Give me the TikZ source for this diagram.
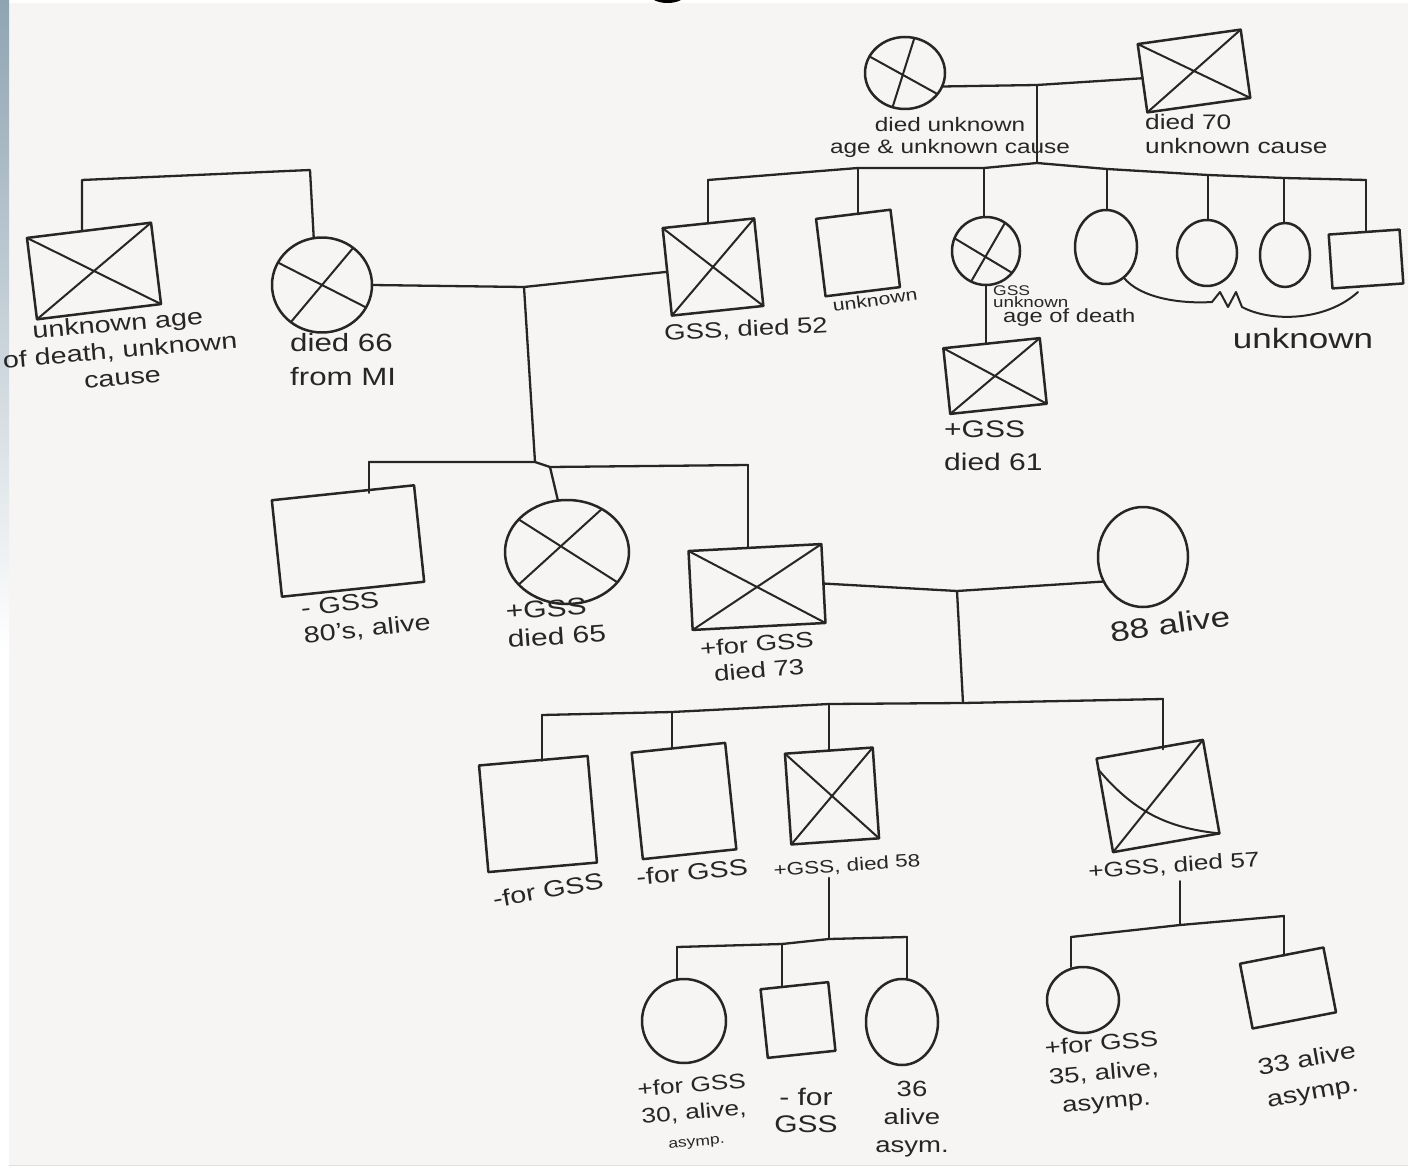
\documentclass[tikz,border=0pt]{standalone}
\usepackage{fontspec}
\setmainfont{Liberation Sans}[FakeStretch=1.25]
\usetikzlibrary{shapes.geometric,calc}
\definecolor{ink}{HTML}{262626}
\definecolor{paper}{HTML}{F7F5F3}
\definecolor{rim}{HTML}{8FA4B2}
\newcommand\hwfont[2]{\fontsize{#1}{#2}\selectfont}
\begin{document}
\begin{tikzpicture}[x=1pt,y=-1pt,
  line join=round, line cap=round,
  male/.style={draw=ink, line width=2.5pt, rectangle, inner sep=0pt, outer sep=0pt},
  female/.style={draw=ink, line width=2.5pt, ellipse, inner sep=0pt, outer sep=0pt},
  link/.style={draw=ink, line width=2.3pt},
  cross/.style={draw=ink, line width=2pt},
  lbl/.style={text=ink, inner sep=0pt, align=center},
  lbll/.style={text=ink, inner sep=0pt, align=left}]
% ---------- background ----------
\useasboundingbox (0,0) rectangle (1408,1174);
\fill[white] (0,0) rectangle (1408,1174);
\fill[paper] (9,3) rectangle (1408,1165);
\shade[top color=rim, bottom color=white] (0,0) rectangle (9,650);
\draw[line width=1pt, black!12] (9,1165) -- (1408,1165);
\fill[black] (654,0) .. controls (661,4) and (674,4) .. (681,0) -- cycle;

% ---------- generation I ----------
\node[female, minimum width=80, minimum height=72] (TC) at (905,73) {};
\node[male, minimum width=104, minimum height=69, rotate=8] (TS) at (1194,71) {};
\node[male, minimum width=125, minimum height=82, rotate=7] (LS) at (94,271) {};
\node[female, minimum width=100, minimum height=95] (LC) at (322,285) {};

% ---------- children of the top couple ----------
\node[male, minimum width=92, minimum height=88, rotate=6] (S52) at (713,267) {};
\node[male, minimum width=75, minimum height=78, rotate=7] (SU) at (858,253) {};
\node[female, minimum width=68, minimum height=68] (C3) at (986,251) {};
\node[female, minimum width=62, minimum height=74] (C4) at (1106,247) {};
\node[female, minimum width=60, minimum height=66] (C5) at (1207,253) {};
\node[female, minimum width=50, minimum height=64] (C6) at (1285,255) {};
\node[male, minimum width=71, minimum height=54, rotate=4] (S7) at (1366,259) {};
\node[male, minimum width=97, minimum height=66, rotate=6] (S61) at (995,376) {};

% ---------- generation III ----------
\node[male, minimum width=143, minimum height=97, rotate=6] (M1) at (348,541) {};
\node[female, minimum width=124, minimum height=104] (M2) at (567,552) {};
\node[male, minimum width=133, minimum height=79, rotate=3] (M3) at (757,587) {};
\node[female, minimum width=90, minimum height=100] (W) at (1143,557) {};

% ---------- generation IV ----------
\node[male, minimum width=109, minimum height=107, rotate=5] (G1) at (538,814) {};
\node[male, minimum width=94, minimum height=107, rotate=6] (G2) at (684,801) {};
\node[male, minimum width=88, minimum height=91, rotate=4] (G3) at (832,796) {};
\node[male, minimum width=108, minimum height=95, rotate=10] (G4) at (1158,796) {};

% ---------- generation V ----------
\node[female, minimum width=84, minimum height=84] (D1) at (684,1021) {};
\node[male, minimum width=68, minimum height=69, rotate=6] (D2) at (798,1020) {};
\node[female, minimum width=72, minimum height=86] (D3) at (902,1022) {};
\node[female, minimum width=72, minimum height=66] (D4) at (1083,1000) {};
\node[male, minimum width=85, minimum height=66, rotate=11] (D5) at (1288,988) {};

% ---------- crosses (deceased) ----------
\draw[cross] (TC.155) -- (TC.-33) (TC.-110) -- (TC.75);
\draw[cross] (TS.north west) -- (TS.south east) (TS.south west) -- (TS.north east);
\draw[cross] (LS.north west) -- (LS.south east) (LS.south west) -- (LS.north east);
\draw[cross] (LC.153) -- (LC.-27) (LC.-130) -- (LC.50);
\draw[cross] (S52.north west) -- (S52.south east) (S52.south west) -- (S52.north east);
\draw[cross] (C3.158) -- (C3.-40) (C3.-116) -- (C3.56);
\draw[cross] (S61.north west) -- (S61.south east) (S61.south west) -- (S61.north east);
\draw[cross] (M2.146) -- (M2.-31) (M2.-146) -- (M2.51);
\draw[cross] (M3.north west) -- (M3.south east) (M3.south west) -- (M3.north east);
\draw[cross] (G3.north west) -- (G3.south east) (G3.south west) -- (G3.north east);
\draw[cross] ($(G4.north west)!0.12!(G4.south west)$) to[bend right=22] (G4.south east) (G4.south west) -- (G4.north east);

% ---------- labels ----------
\node[lbl, font=\hwfont{19.5}{22}] (TCt) at (950,137) {died unknown\\age \& unknown cause};
\node[lbll, font=\hwfont{21}{24}, anchor=north west] (TSt) at (1145,114) {died 70\\unknown cause};
\node[lbl, font=\hwfont{23}{27}, rotate=5] (LSt) at (120,350) {unknown age\\of death, unknown\\cause};
\node[lbll, font=\hwfont{25}{34}, anchor=north west] (LCt) at (290,333) {died 66\\from MI};
\node[lbl, font=\hwfont{22}{22}, rotate=3] (S52t) at (746,330) {GSS, died 52};
\node[lbl, font=\hwfont{17}{17}, rotate=8] (SUt) at (875,300) {unknown};
\node[lbll, anchor=north west] (C3t) at (993,286) {\hwfont{14}{16}GSS\\\hwfont{15}{16}unknown\\\hwfont{19}{18}\hspace*{10pt}age of death};
\node[lbl, font=\hwfont{28}{28}] (BRt) at (1303,338) {unknown};
\node[lbll, font=\hwfont{24}{33}, anchor=north west] (S61t) at (944,421) {+GSS\\died 61};

\node[lbll, font=\hwfont{23}{27}, rotate=6, anchor=north west] (M1t) at (300,600) {- GSS\\80's, alive};
\node[lbll, font=\hwfont{24}{28}, rotate=4, anchor=north west] (M2t) at (505,603) {+GSS\\died 65};
\node[lbl, font=\hwfont{22}{26}, rotate=5] (M3t) at (758,657) {+for GSS\\died 73};
\node[lbl, font=\hwfont{28}{28}, rotate=8] (Wt) at (1170,624) {88 alive};

\node[lbl, font=\hwfont{23}{23}, rotate=10] (G1t) at (548,890) {-for GSS};
\node[lbl, font=\hwfont{23}{23}, rotate=5] (G2t) at (692,872) {-for GSS};
\node[lbl, font=\hwfont{18}{18}, rotate=4] (G3t) at (847,866) {+GSS, died 58};
\node[lbl, font=\hwfont{21}{21}, rotate=4] (G4t) at (1174,866) {+GSS, died 57};

\node[lbl, font=\hwfont{21}{27}, rotate=5] (D1t) at (694,1113) {+for GSS\\30, alive,\\\hwfont{14}{17}asymp.};
\node[lbl, font=\hwfont{24}{27}] (D2t) at (806,1110) {- for\\GSS};
\node[lbl, font=\hwfont{22}{28}] (D3t) at (912,1119) {36\\alive\\asym.};
\node[lbl, font=\hwfont{22}{29}, rotate=5] (D4t) at (1104,1074) {+for GSS\\35, alive,\\asymp.};
\node[lbl, font=\hwfont{23}{33}, rotate=10] (D5t) at (1310,1077) {33 alive\\asymp.};

% ---------- top couple and their children ----------
\coordinate (t1) at (1037,85);
\coordinate (t2) at (1037,163);
\draw[link] (TC.-20) -- (t1) -- (TS.west);
\draw[link] (t1) -- (t2);
\coordinate (u1) at (708,180);
\coordinate (u2) at (858,168);
\coordinate (u3) at (984,168);
\coordinate (u4) at (1107,169);
\coordinate (u5) at (1208,175);
\coordinate (u6) at (1284,178);
\coordinate (u7) at (1366,180);
\draw[link] (u1) -- (u2) -- (u3) -- (t2) -- (u4) -- (u5) -- (u6) -- (u7);
\draw[link] (u1) -- (u1 |- S52.north);
\draw[link] (u2) -- (u2 |- SU.north);
\draw[link] (u3) -- (u3 |- C3.north);
\draw[link] (u4) -- (u4 |- C4.north);
\draw[link] (u5) -- (u5 |- C5.north);
\draw[link] (u6) -- (u6 |- C6.north);
\draw[link] (u7) -- (u7 |- S7.north);
\draw[link] (C3.south) -- (C3.south |- S61.north);
% bracket "unknown"
\draw[cross] (C4.-60) .. controls (1140,298) and (1180,304) .. (1212,302)
  -- (1220,292) -- (1228,307) -- (1236,292) -- (1242,307)
  .. controls (1270,322) and (1325,322) .. (1358,292);

% ---------- left couple ----------
\coordinate (l1) at (82,180);
\coordinate (l2) at (310,170);
\draw[link] (l1 |- LS.north) -- (l1) -- (l2) -- (LC.100);

% ---------- marriage LC - S52 ----------
\coordinate (m1) at (524,287);
\coordinate (m2) at (535,462);
\draw[link] (LC.east) -- (m1) -- (S52.west);
\draw[link] (m1) -- (m2);
\coordinate (s2a) at (369,462);
\coordinate (s2b) at (550,467);
\coordinate (s2c) at (748,465);
\draw[link] (s2a) -- (m2) -- (s2b) -- (s2c);
\draw[link] (s2a) -- (s2a |- M1.north);
\draw[link] (s2b) -- (M2.100);
\draw[link] (s2c) -- (s2c |- M3.north);

% ---------- marriage M3 - W ----------
\coordinate (m3) at (957,591);
\coordinate (m4) at (963,703);
\draw[link] (M3.east) -- (m3) -- (W.212);
\draw[link] (m3) -- (m4);
\coordinate (s3a) at (542,715);
\coordinate (s3b) at (672,712);
\coordinate (s3c) at (829,704);
\coordinate (s3d) at (1163,699);
\draw[link] (s3a) -- (s3b) -- (s3c) -- (m4) -- (s3d);
\draw[link] (s3a) -- (s3a |- G1.north);
\draw[link] (s3b) -- (s3b |- G2.north);
\draw[link] (s3c) -- (s3c |- G3.north);
\draw[link] (s3d) -- (s3d |- G4.north);

% ---------- G3 children ----------
\coordinate (m5) at (829,939);
\draw[link] ($(G3t.south -| m5)+(0,4)$) -- (m5);
\coordinate (s4a) at (677,947);
\coordinate (s4b) at (782,944);
\coordinate (s4c) at (907,937);
\draw[link] (s4a) -- (s4b) -- (m5) -- (s4c);
\draw[link] (s4a) -- (s4a |- D1.north);
\draw[link] (s4b) -- (s4b |- D2.north);
\draw[link] (s4c) -- (s4c |- D3.north);

% ---------- G4 children ----------
\coordinate (m6) at (1180,925);
\draw[link] ($(G4t.south -| m6)+(0,6)$) -- (m6);
\coordinate (s4d) at (1071,937);
\coordinate (s4e) at (1284,916);
\draw[link] (s4d) -- (m6) -- (s4e);
\draw[link] (s4d) -- (s4d |- D4.north);
\draw[link] (s4e) -- (s4e |- D5.north);
\end{tikzpicture}
\end{document}
